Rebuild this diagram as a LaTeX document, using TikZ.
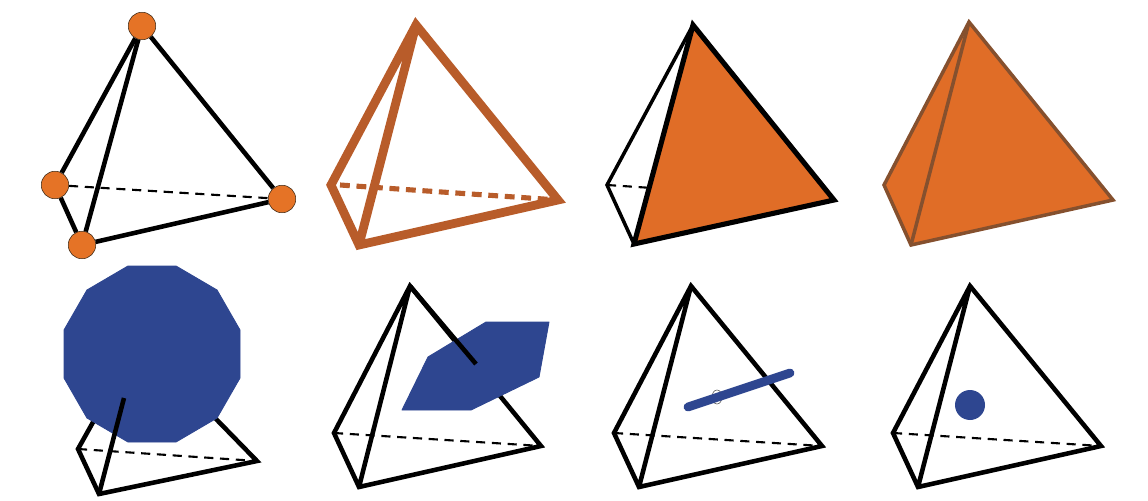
\documentclass[tikz,border=0pt]{standalone}
\usepackage{xcolor}
\usetikzlibrary{shapes.geometric}
\definecolor{vertexorange}{HTML}{E57326}
\definecolor{edgebrown}{HTML}{B85C2A}
\definecolor{faceorange}{HTML}{E06D27}
\definecolor{darkbrown}{HTML}{85502E}
\definecolor{dualblue}{HTML}{2E4690}
\newcommand{\settet}[5]{
  \coordinate (#1top) at #2;
  \coordinate (#1left) at #3;
  \coordinate (#1bot) at #4;
  \coordinate (#1right) at #5;
}
\begin{document}
\begin{tikzpicture}[
  x=0.02cm, y=-0.02cm,
  edge/.style={draw=black, line width=2.6pt},
  hidden/.style={draw=black, line width=1.2pt, dash pattern=on 5.2pt off 3.8pt},
  vertex/.style={circle, draw=black!70!brown, line width=0.3pt, fill=vertexorange, minimum size=0.55cm, inner sep=0pt},
  dual/.style={fill=dualblue, draw=dualblue, line width=0.5pt, line join=round}
]
  \useasboundingbox (0,0) rectangle (1148,500);

  % Vertices
  \node[vertex] (atop) at (142,26) {};
  \node[vertex] (aleft) at (55,185) {};
  \node[vertex] (abot) at (82,245) {};
  \node[vertex] (aright) at (282,199) {};
  \draw[edge] (atop) -- (aleft);
  \draw[edge] (atop) -- (abot);
  \draw[edge] (atop) -- (aright);
  \draw[edge] (aleft) -- (abot);
  \draw[edge] (abot) -- (aright);
  \draw[hidden] (aleft) -- (aright);

  % Edges
  \settet{b}{(416,25)}{(331,185)}{(359,245)}{(558,200)}
  \draw[edgebrown, line width=5pt] (btop) -- (bleft) -- (bbot) -- (bright) -- cycle (btop) -- (bbot);
  \draw[edgebrown, line width=2.9pt, dash pattern=on 5.6pt off 3.8pt] (bleft) ++(9,0) -- (bright);

  % Faces
  \settet{c}{(693,25)}{(607,185)}{(634,244)}{(834,200)}
  \draw[hidden] (cleft) -- (cright);
  \draw[edge, line width=2pt] (ctop) -- (cleft) -- (cbot);
  \draw[edge, line width=2.9pt, fill=faceorange] (ctop) -- (cbot) -- (cright) -- cycle;

  % Solid
  \settet{d}{(969,22)}{(884,185)}{(911,245)}{(1113,200)}
  \draw[draw=darkbrown, line width=2pt, fill=faceorange] (dtop) -- (dleft) -- (dbot) -- (dright) -- cycle;
  \draw[draw=darkbrown, line width=2pt] (dtop) -- (dbot);

  % Dual of vertex
  \settet{e}{(139,340)}{(78,449)}{(99,494)}{(257,461)}
  \coordinate (etip) at (124,398);
  \draw[hidden] (eleft) -- (eright);
  \draw[edge] (etop) -- (eleft) -- (ebot) -- (eright) -- cycle;
  \draw[dual] (128,266) -- (176,266) -- (217,290) -- (240,330) -- (240,378) -- (217,418)
    -- (176,442) -- (128,442) -- (87,418) -- (64,378) -- (64,330) -- (87,290) -- cycle;
  \draw[edge] (ebot) -- (etip);

  % Dual of edge
  \settet{f}{(410,286)}{(334,433)}{(359,487)}{(541,446)}
  \coordinate (ftip) at (476,364);
  \draw[hidden] (fleft) -- (fright);
  \draw[edge] (ftop) -- (fleft) -- (fbot) -- (fright) -- cycle (ftop) -- (fbot);
  \draw[dual] (486,322) -- (549,322) -- (539,377) -- (471,410) -- (402,410) -- (428,357) -- cycle;
  \draw[edge] (ftop) -- (ftip);

  % Dual of face
  \settet{g}{(691,286)}{(614,433)}{(639,487)}{(822,446)}
  \coordinate (gstart) at (688,407);
  \coordinate (gend) at (790,373);
  \draw[hidden] (gleft) -- (gright);
  \draw[edge] (gtop) -- (gleft) -- (gbot) -- (gright) -- cycle (gtop) -- (gbot);
  \node[ellipse, draw=black!70, line width=0.3pt, minimum width=0.2cm, minimum height=0.28cm, inner sep=0pt] (gring) at (717,397) {};
  \draw[dualblue, line width=5pt, line cap=round] (gstart) -- (gend);

  % Dual of solid
  \settet{h}{(970,286)}{(893,433)}{(918,487)}{(1101,446)}
  \draw[hidden] (hleft) -- (hright);
  \draw[edge] (htop) -- (hleft) -- (hbot) -- (hright) -- cycle (htop) -- (hbot);
  \node[circle, fill=dualblue, minimum size=0.6cm, inner sep=0pt] (hdot) at (970,405) {};
\end{tikzpicture}
\end{document}
